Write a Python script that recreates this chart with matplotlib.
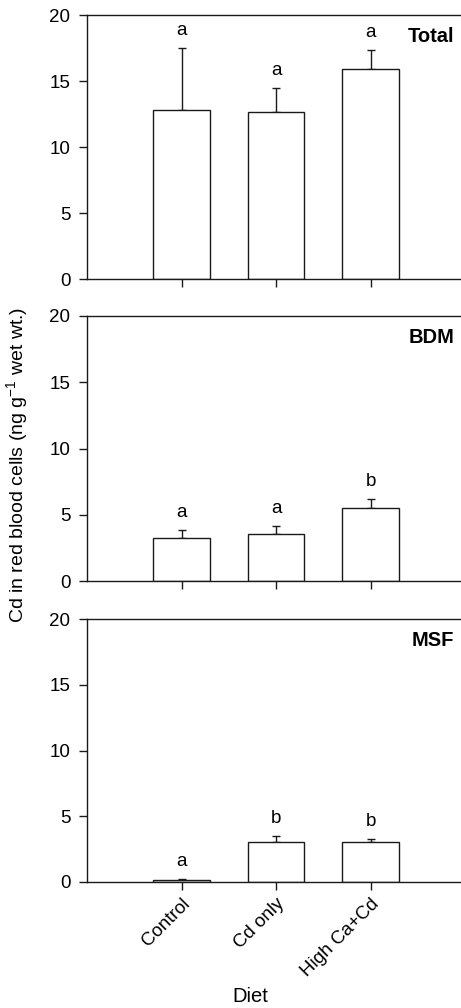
import matplotlib
matplotlib.use("Agg")
import matplotlib.pyplot as plt

plt.rcParams['font.family'] = ['Liberation Sans', 'DejaVu Sans']

diets = ["Control", "Cd only", "High Ca+Cd"]
panels = ["Total", "BDM", "MSF"]

total_mean = [12.83, 12.68, 15.93]
total_se = [4.65, 1.79, 1.42]
total_letters = ["a", "a", "a"]

bdm_mean = [3.27, 3.55, 5.51]
bdm_se = [0.58, 0.58, 0.68]
bdm_letters = ["a", "a", "b"]

msf_mean = [0.15, 3.03, 3.06]
msf_se = [0.08, 0.48, 0.18]
msf_letters = ["a", "b", "b"]

y_ticks = [0, 5, 10, 15, 20]

means = [total_mean, bdm_mean, msf_mean]
errs = [total_se, bdm_se, msf_se]
letters = [total_letters, bdm_letters, msf_letters]

W, H = 461, 1008
fig = plt.figure(figsize=(W / 100, H / 100), dpi=100)

# axes boxes in pixels: (top, bottom)
boxes = [(15, 279), (316, 581), (619, 882)]
left_px, width_px = 87, 378

edge = "#1a1a1a"
for i, (top, bot) in enumerate(boxes):
    ax = fig.add_axes([left_px / W, 1 - bot / H, width_px / W, (bot - top) / H])
    x = list(range(len(diets)))
    ax.bar(x, means[i], width=0.6, color="white", edgecolor=edge, linewidth=1.0, zorder=2)
    ax.errorbar(x, means[i], yerr=[[0] * 3, errs[i]], fmt="none", ecolor=edge,
                elinewidth=1.0, capsize=3, capthick=1.0, zorder=1)
    for xi, m, e, lab in zip(x, means[i], errs[i], letters[i]):
        ax.text(xi, m + e + 1.35, lab, ha="center", va="center", fontsize=13.5)
    ax.set_xlim(-1, 3)
    ax.set_ylim(0, 20)
    ax.set_yticks(y_ticks)
    ax.set_xticks(x)
    ax.spines["right"].set_visible(False)
    for s in ["left", "bottom", "top"]:
        ax.spines[s].set_linewidth(1.0)
        ax.spines[s].set_color(edge)
    ax.tick_params(axis="both", direction="out", length=6, width=1.0, color=edge,
                   labelsize=13.5)
    ax.tick_params(axis="y", pad=6)
    ax.text(0.971, 0.918, panels[i], transform=ax.transAxes, ha="right", va="center",
            fontsize=14.5, fontweight="bold")
    if i < 2:
        ax.set_xticklabels([])
    else:
        ax.set_xticklabels(diets, rotation=45, ha="right", va="top",
                           rotation_mode="anchor", fontsize=13.5)

fig.text(0.039, 0.539, r"Cd in red blood cells (ng g$^{\mathregular{-1}}$ wet wt.)",
         rotation=90, ha="center", va="center", fontsize=14)
fig.text(250 / W, 1 - 997 / H, "Diet", ha="center", va="center", fontsize=14.5)

fig.savefig("out.png", dpi=100)
